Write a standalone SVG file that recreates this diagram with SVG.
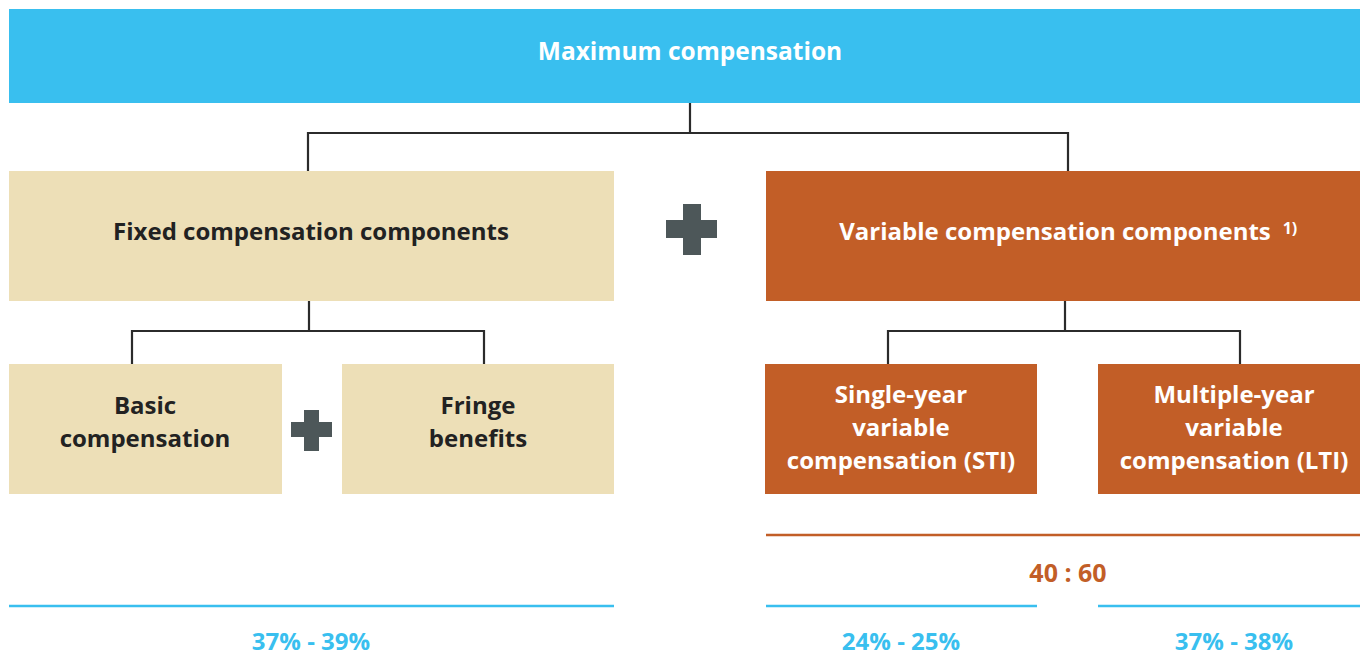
<svg xmlns="http://www.w3.org/2000/svg" width="1360" height="657" viewBox="0 0 1360 657">
<style>
text{font-family:"Open Sans","Liberation Sans",sans-serif;font-weight:bold;text-anchor:middle}
.blue{fill:#39BFEF}.beige{fill:#EDDFB7}.orange{fill:#C25E27}.plus{fill:#4D5759}
.w{fill:#FFFFFF;font-size:24px}.d{fill:#222222;font-size:24px}
.conn{fill:none;stroke:#2B2B2B;stroke-width:2.2}
.bl{stroke:#39BFEF;stroke-width:2.5}.ol{stroke:#C25E27;stroke-width:2.5}
.pct{fill:#39BFEF;font-size:24px}
</style>
<g id="connectors">
<path class="conn" d="M690,103V133M308,171V133H1068V171"/>
<path class="conn" d="M309,301V331M132,364V331H484V364"/>
<path class="conn" d="M1065,301V331M888,364V331H1240V364"/>
</g>
<g id="max"><rect class="blue" x="9" y="9" width="1351" height="94"/><text class="w" x="690" y="60" style="font-size:24.5px">Maximum compensation</text></g>
<g id="fixed"><rect class="beige" x="9" y="171" width="605" height="130"/><text class="d" x="311" y="240">Fixed compensation components</text></g>
<g id="plus1"><rect class="plus" x="683" y="204" width="18" height="51"/><rect class="plus" x="666" y="220" width="51" height="18"/></g>
<g id="variable"><rect class="orange" x="766" y="171" width="594" height="130"/><text class="w" x="1055" y="240">Variable compensation components</text><text class="w" x="1290" y="234" style="font-size:16px">1)</text></g>
<g id="basic"><rect class="beige" x="9" y="364" width="273" height="130"/><text class="d" x="145" y="414">Basic</text><text class="d" x="145" y="447">compensation</text></g>
<g id="plus2"><rect class="plus" x="304" y="410" width="15" height="41"/><rect class="plus" x="291" y="422" width="41" height="15"/></g>
<g id="fringe"><rect class="beige" x="342" y="364" width="272" height="130"/><text class="d" x="478" y="414">Fringe</text><text class="d" x="478" y="447">benefits</text></g>
<g id="sti"><rect class="orange" x="765" y="364" width="272" height="130"/><text class="w" x="901" y="403">Single-year</text><text class="w" x="901" y="436">variable</text><text class="w" x="901" y="469">compensation (STI)</text></g>
<g id="lti"><rect class="orange" x="1098" y="364" width="262" height="130"/><text class="w" x="1234" y="403">Multiple-year</text><text class="w" x="1234" y="436">variable</text><text class="w" x="1234" y="469">compensation (LTI)</text></g>
<g id="ratio"><line class="ol" x1="766" y1="535" x2="1360" y2="535"/><text x="1068" y="582" style="fill:#C25E27;font-size:25px">40 : 60</text></g>
<g id="shares">
<line class="bl" x1="9" y1="606" x2="614" y2="606"/>
<line class="bl" x1="766" y1="606" x2="1037" y2="606"/>
<line class="bl" x1="1098" y1="606" x2="1360" y2="606"/>
<text class="pct" x="311" y="650">37% - 39%</text>
<text class="pct" x="901" y="650">24% - 25%</text>
<text class="pct" x="1234" y="650">37% - 38%</text>
</g>
</svg>
